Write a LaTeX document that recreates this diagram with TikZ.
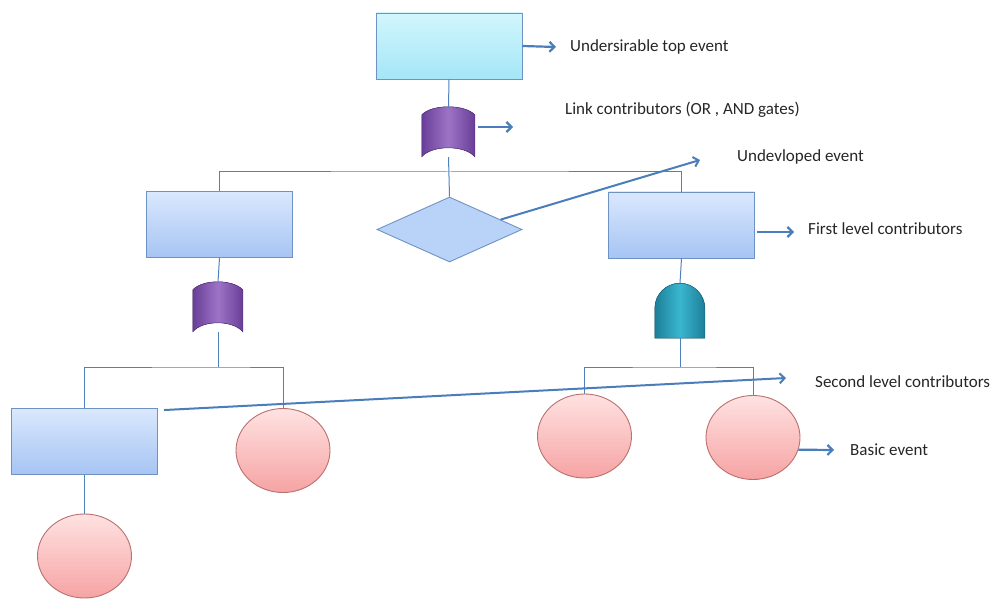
\documentclass[tikz,border=0pt]{standalone}
\usepackage{fontspec}
\setmainfont{Carlito}
\usetikzlibrary{arrows.meta,shapes.geometric,calc}

\definecolor{treeline}{HTML}{4F81BD}
\definecolor{arrowblue}{HTML}{4A7EBB}
\definecolor{boxedge}{HTML}{6F92C4}
\definecolor{boxtop}{HTML}{DAE8FD}
\definecolor{boxbot}{HTML}{A6C4F3}
\definecolor{toptop}{HTML}{D2F6FD}
\definecolor{topbot}{HTML}{A4E6F7}
\definecolor{diafill}{HTML}{B9D3F8}
\definecolor{circtop}{HTML}{FFE2E2}
\definecolor{circbot}{HTML}{F6A3A3}
\definecolor{circedge}{HTML}{B9706E}
\definecolor{orgateA}{HTML}{6A3E98}
\definecolor{orgateB}{HTML}{9C74C6}
\definecolor{andgateA}{HTML}{1D7F99}
\definecolor{andgateB}{HTML}{3BB6D0}
\definecolor{labeltext}{HTML}{262626}

\tikzset{
  evbox/.style={rectangle, draw=boxedge, line width=0.9pt, top color=boxtop, bottom color=boxbot,
    minimum width=146pt, minimum height=66pt, inner sep=0pt},
  topbox/.style={evbox, top color=toptop, bottom color=topbot},
  basicev/.style={ellipse, draw=circedge, line width=0.9pt, top color=circtop, bottom color=circbot,
    minimum width=94pt, minimum height=84pt, inner sep=0pt},
  undevev/.style={diamond, draw=boxedge, line width=0.9pt, fill=diafill,
    minimum width=145pt, minimum height=65pt, inner sep=0pt},
  gatebox/.style={rectangle, draw=none, inner sep=0pt},
  tline/.style={draw=treeline, line width=1pt},
  callout/.style={draw=arrowblue, line width=2.2pt, -{Straight Barb[length=5pt,width=10pt]}},
  note/.style={anchor=west, inner sep=0pt, text=labeltext, font=\fontsize{17}{20}\selectfont},
  orshade/.style={left color=orgateA, right color=orgateA, middle color=orgateB, draw=orgateA!80!black, line width=0.5pt},
  andshade/.style={left color=andgateA, right color=andgateA, middle color=andgateB, draw=andgateA!80!black, line width=0.5pt}
}

\begin{document}
\begin{tikzpicture}[x=1pt,y=-1pt]
\useasboundingbox (0,0) rectangle (1003,601);

% events
\node[topbox]  (top) at (449,46) {};
\node[evbox]   (l1)  at (219.5,224.5) {};
\node[evbox]   (r1)  at (681.5,225) {};
\node[undevev] (undev) at (449.5,229.5) {};
\node[evbox]   (l2)  at (84.5,441.5) {};
\node[basicev] (c1)  at (283,450.5) {};
\node[basicev] (c2)  at (584.5,436) {};
\node[basicev] (c3)  at (753,437.5) {};
\node[basicev] (c4)  at (84.5,556) {};

% gates
\node[gatebox, minimum width=53pt, minimum height=50pt] (g1) at (448.5,132) {};
\node[gatebox, minimum width=50pt, minimum height=50pt] (g2) at (218,307) {};
\node[gatebox, minimum width=50pt, minimum height=55pt] (g3) at (680,310.5) {};

\fill[orshade] (g1.north west) ++(0,8) .. controls ++(10,-10.7) and ++(-10,-10.7) .. ++(53,0)
  -- ++(0,42) .. controls ++(-10,-12) and ++(10,-12) .. ++(-53,0) -- cycle;
\fill[orshade] (g2.north west) ++(0,8) .. controls ++(10,-10.7) and ++(-10,-10.7) .. ++(50,0)
  -- ++(0,42) .. controls ++(-10,-12) and ++(10,-12) .. ++(-50,0) -- cycle;
\fill[andshade] (g3.south west) -- ++(0,-30) .. controls ++(0,-13.8) and ++(-13.8,0) .. ++(25,-25)
  .. controls ++(13.8,0) and ++(0,-13.8) .. ++(25,25) -- ++(0,30) -- cycle;

% tree connectors
\coordinate (j1) at (449,172);
\coordinate (j2) at (218,367);
\coordinate (j3) at (680,367);
\path[tline] (top.south) -- (g1.north);
\path[tline] (g1.south) -- (undev.north);
\path[tline] (l1.north) |- (j1) -| (r1.north);
\path[tline] (l1.south) -- (g2.north);
\path[tline] (g2.south) -- (j2);
\path[tline] (l2.north) |- (j2) -| (c1.north);
\path[tline] (r1.south) -- (g3.north);
\path[tline] (g3.south) -- (j3);
\path[tline] (c2.north) |- (j3) -| (c3.north);
\path[tline] (l2.south) -- (c4.north);

% explanatory labels
\node[note] (t1) at (570,47)  {Undersirable top event};
\node[note] (t2) at (565,110) {Link contributors (OR , AND gates)};
\node[note] (t3) at (737,157) {Undevloped event};
\node[note] (t4) at (808,229) {First level contributors};
\node[note] (t5) at (815,382) {Second level contributors};
\node[note] (t6) at (850,450) {Basic event};

\coordinate (a1) at (556,47);
\coordinate (a2) at (513,127);
\coordinate (a3) at (700,160);
\coordinate (a4) at (794,232);
\coordinate (a5) at (786,378);
\coordinate (a6) at (834,450);

\draw[callout] (top.east) -- (a1);
\draw[callout] ($(g1.east)+(3,-5)$) -- (a2);
\draw[callout, line width=2pt] ($(undev.east)!0.3!(undev.north)$) -- (a3);
\draw[callout] ($(r1.east)+(2,7)$) -- (a4);
\draw[callout, line width=2pt] ($(l2.north east)+(6,2)$) -- (a5);
\draw[callout] (c3.-15) -- (a6);
\end{tikzpicture}
\end{document}
